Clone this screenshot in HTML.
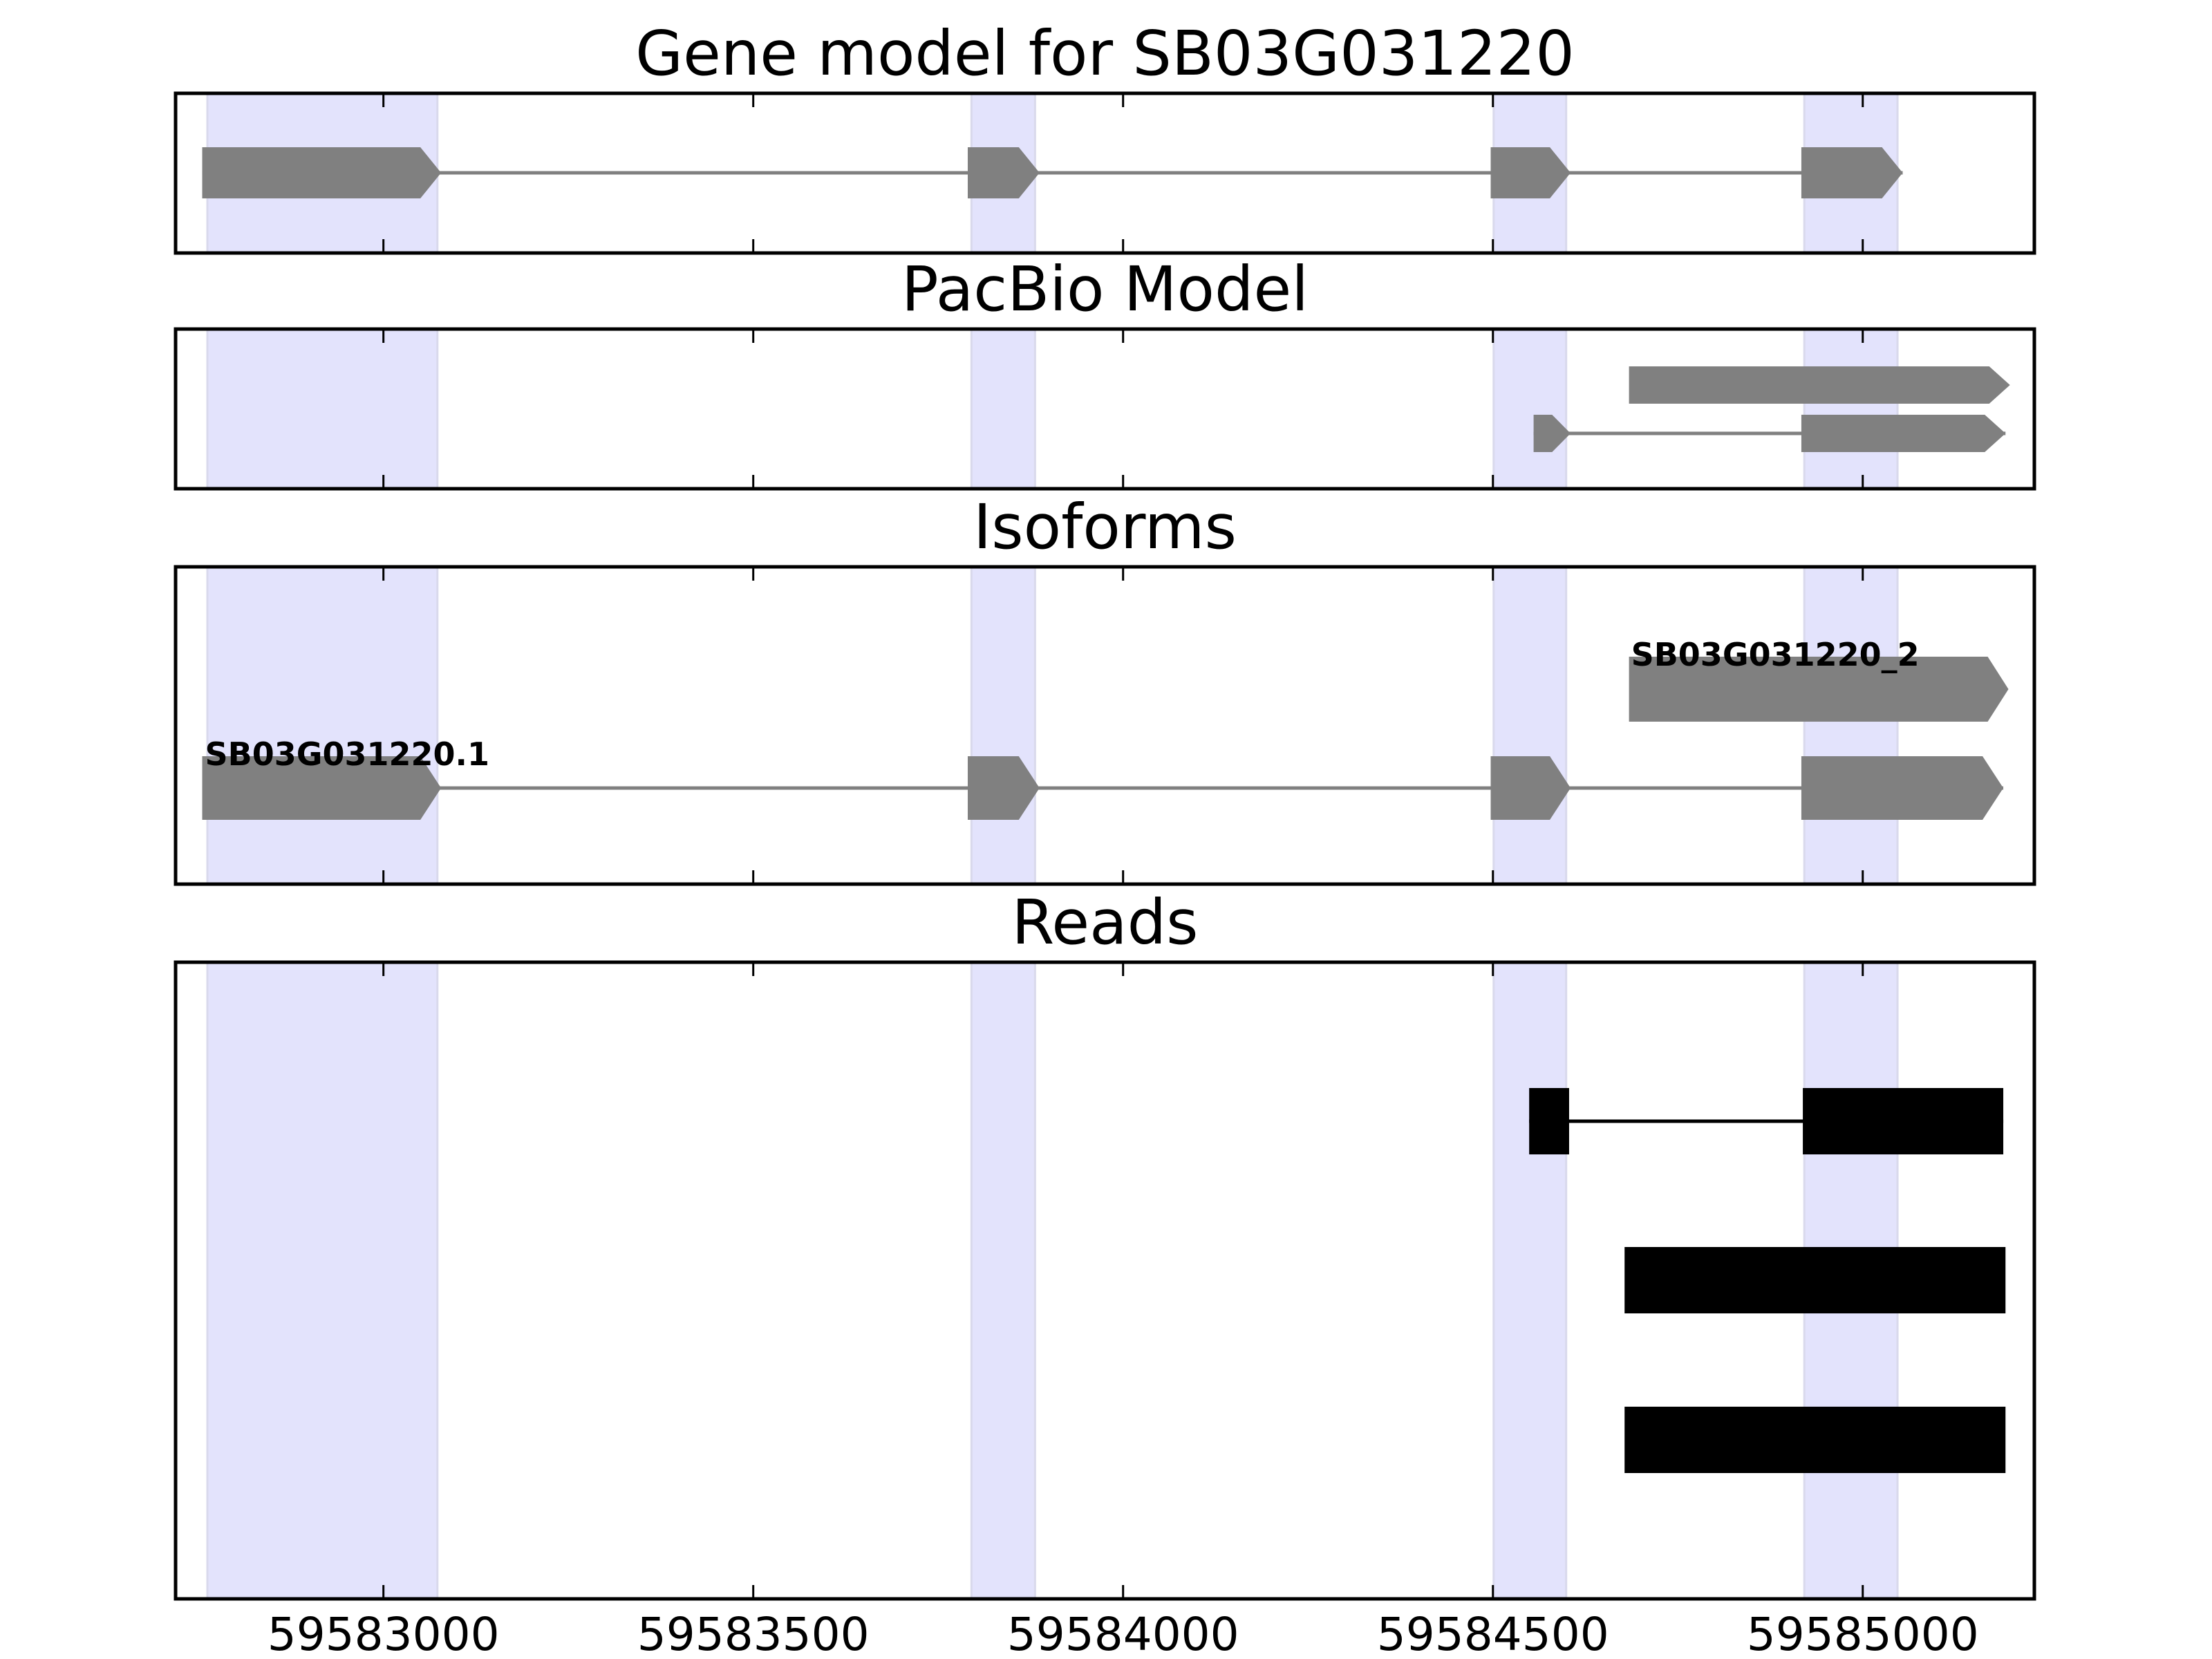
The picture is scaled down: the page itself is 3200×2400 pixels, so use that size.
<!DOCTYPE html>
<html><head><meta charset="utf-8"><style>
html,body{margin:0;padding:0;background:#fff;}
svg{display:block;}
text{font-family:"DejaVu Sans","Liberation Sans",sans-serif;}
</style></head>
<body>
<svg id="chart" width="3200" height="2400" viewBox="0 0 3200 2400" xmlns="http://www.w3.org/2000/svg"></svg>
<script>
// ---- data ----
const xTicks = [59583000, 59583500, 59584000, 59584500, 59585000];
const xTickLabels = ["59583000", "59583500", "59584000", "59584500", "59585000"];
const shadeStarts = [59582762, 59583795, 59584501, 59584921];
const shadeEnds = [59583073, 59583881, 59584599, 59585047];
const geneExonStarts = [59582755, 59583790, 59584497, 59584917];
const geneExonEnds = [59583078, 59583887, 59584605, 59585054];
const pacbio1Starts = [59584684];
const pacbio1Ends = [59585199];
const pacbio2Starts = [59584555, 59584917];
const pacbio2Ends = [59584605, 59585193];
const iso1Starts = [59582755, 59583790, 59584497, 59584917];
const iso1Ends = [59583078, 59583887, 59584605, 59585190];
const iso2Starts = [59584684];
const iso2Ends = [59585197];
const isoLabels = ["SB03G031220.1", "SB03G031220_2"];
const read1Starts = [59584549, 59584919];
const read1Ends = [59584603, 59585190];
const read2Starts = [59584678];
const read2Ends = [59585193];
const read3Starts = [59584678];
const read3Ends = [59585193];

// ---- axis ----
const X0 = 254, X1 = 2943, D0 = 59582719, D1 = 59585232;
function xs(v){ return X0 + (v - D0) * (X1 - X0) / (D1 - D0); }

const NS = "http://www.w3.org/2000/svg";
const svg = document.getElementById('chart');
function mk(tag, attrs, parent){
  const e = document.createElementNS(NS, tag);
  for (const k in attrs) e.setAttribute(k, attrs[k]);
  (parent || svg).appendChild(e);
  return e;
}

const panels = [
  {name:'gene-model-panel', title:'Gene model for SB03G031220', top:135, bottom:366},
  {name:'pacbio-panel', title:'PacBio Model', top:476, bottom:707},
  {name:'isoforms-panel', title:'Isoforms', top:820, bottom:1279},
  {name:'reads-panel', title:'Reads', top:1392, bottom:2313}
];

function drawTranscript(g, starts, ends, cy, half, color, arrow, name){
  const tg = mk('g', {}, g);
  
  
  const lx0 = xs(starts[0]), lx1 = xs(ends[ends.length-1]);
  if (starts.length > 1) {
    const ln = mk('line', {x1:lx0, x2:lx1, y1:cy, y2:cy, stroke:color, 'stroke-width':5}, tg);
    
    
  }
  for (let i = 0; i < starts.length; i++) {
    const a = xs(starts[i]), b = xs(ends[i]);
    let el;
    if (arrow) {
      const tipW = Math.min(30, (b - a) * 0.5);
      const s = b - tipW;
      el = mk('polygon', {points:`${a},${cy-half} ${s},${cy-half} ${b},${cy} ${s},${cy+half} ${a},${cy+half}`, fill:color}, tg);
    } else {
      el = mk('rect', {x:a, y:cy-half, width:b-a, height:2*half, fill:color}, tg);
    }
    
    
  }
}

panels.forEach((p, pi) => {
  const g = mk('g', {});
  
  
  const t = mk('text', {x:(X0+X1)/2, y:p.top-27, 'text-anchor':'middle', 'font-size':89, fill:'#000'}, g);
  t.textContent = p.title;
  
  
  for (let i = 0; i < shadeStarts.length; i++) {
    const a = xs(shadeStarts[i]), b = xs(shadeEnds[i]);
    const r = mk('rect', {x:a, y:p.top, width:b-a, height:p.bottom-p.top, fill:'#e3e3fc', stroke:'#d9d9ec', 'stroke-width':3}, g);
    
    
  }
  xTicks.forEach(v => {
    const x = xs(v);
    const t1 = mk('line', {x1:x, x2:x, y1:p.top, y2:p.top+20, stroke:'#000', 'stroke-width':3}, g);
    
    
    const t2 = mk('line', {x1:x, x2:x, y1:p.bottom-20, y2:p.bottom, stroke:'#000', 'stroke-width':3}, g);
    
    
  });
  p.g = g;
});

const grey = '#808080';
drawTranscript(panels[0].g, geneExonStarts, geneExonEnds, 250, 37, grey, true, 'gene-transcript');
drawTranscript(panels[1].g, pacbio1Starts, pacbio1Ends, 557, 27, grey, true, 'pacbio-transcript-1');
drawTranscript(panels[1].g, pacbio2Starts, pacbio2Ends, 627, 27, grey, true, 'pacbio-transcript-2');
drawTranscript(panels[2].g, iso1Starts, iso1Ends, 1140, 46, grey, true, 'isoform-1');
drawTranscript(panels[2].g, iso2Starts, iso2Ends, 997, 47, grey, true, 'isoform-2');
const l1 = mk('text', {x:xs(iso1Starts[0])+4, y:1107, 'font-size':46, 'font-weight':'bold', fill:'#000'}, panels[2].g);
l1.textContent = isoLabels[0];


const l2 = mk('text', {x:xs(iso2Starts[0])+3, y:963, 'font-size':46, 'font-weight':'bold', fill:'#000'}, panels[2].g);
l2.textContent = isoLabels[1];


drawTranscript(panels[3].g, read1Starts, read1Ends, 1622, 48, '#000', false, 'read-1');
drawTranscript(panels[3].g, read2Starts, read2Ends, 1852, 48, '#000', false, 'read-2');
drawTranscript(panels[3].g, read3Starts, read3Ends, 2083, 48, '#000', false, 'read-3');

panels.forEach(p => {
  const f = mk('rect', {x:X0, y:p.top, width:X1-X0, height:p.bottom-p.top, fill:'none', stroke:'#000', 'stroke-width':5}, p.g);
  
  
});

const ax = mk('g', {});


xTicks.forEach((v, i) => {
  const t = mk('text', {x:xs(v), y:2387, 'text-anchor':'middle', 'font-size':66, fill:'#000'}, ax);
  t.textContent = xTickLabels[i];
  
  
});
</script>
</body></html>
